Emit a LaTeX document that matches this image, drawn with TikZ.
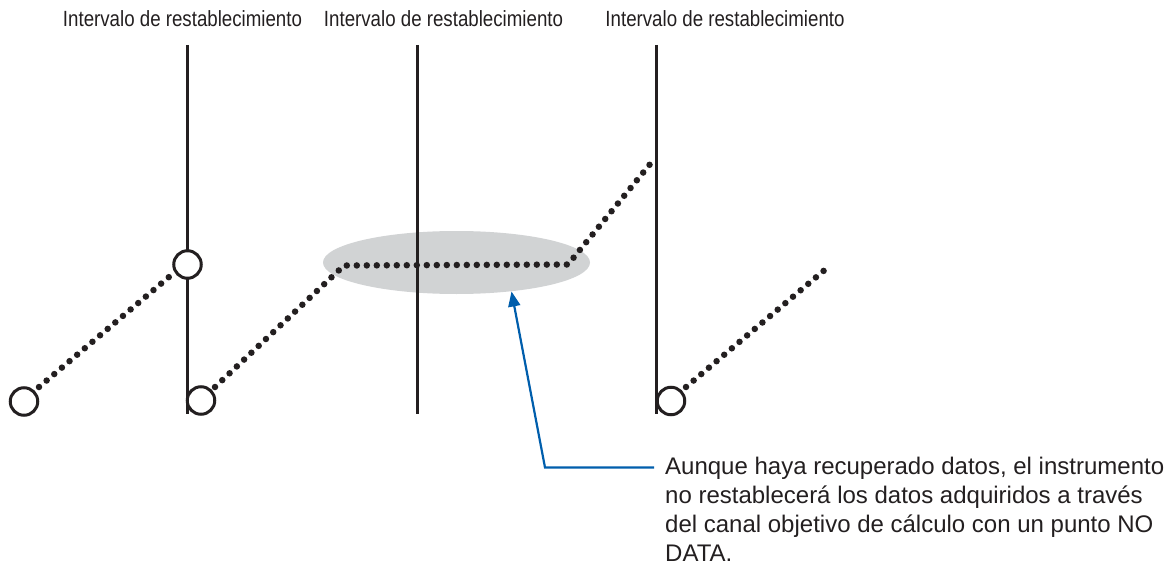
\documentclass[tikz,border=0pt]{standalone}
\usepackage{fontspec}
\setmainfont{Liberation Sans}
\newfontfamily\labfont[FakeStretch=0.85]{Liberation Sans}
\newfontfamily\bodyfont{Liberation Sans}
\usetikzlibrary{arrows.meta}
\definecolor{ellgray}{HTML}{D1D3D4}
\definecolor{arrowblue}{HTML}{005EAC}
\definecolor{ink}{HTML}{231F20}
\tikzset{
  vline/.style={draw=ink, line width=3pt},
  dots/.style={draw=ink, line width=6.5pt, line cap=round, dash pattern=on 0pt off 10pt},
  hole/.style={circle, draw=ink, fill=white, line width=3pt, minimum size=27.5pt, inner sep=0pt},
  lab/.style={font=\labfont\fontsize{22}{26}\selectfont, text=ink, inner sep=0pt},
  note/.style={font=\bodyfont\fontsize{24}{29}\selectfont, text=ink, align=left, inner sep=0pt, anchor=north west},
  pointer/.style={draw=arrowblue, line width=2.2pt, -{Triangle[length=15pt,width=12pt]}}
}
\begin{document}
\begin{tikzpicture}[x=1pt,y=-1pt]
\useasboundingbox (0,0) rectangle (1175,564);
% highlighted region
\fill[ellgray] (456.5,262.5) ellipse [x radius=133.5, y radius=31.5];
% labels
\node[lab] (l1) at (182.5,19) {Intervalo de restablecimiento};
\node[lab] (l2) at (443.5,19) {Intervalo de restablecimiento};
\node[lab] (l3) at (725,19) {Intervalo de restablecimiento};
% vertical lines
\coordinate (v1t) at (187.5,45); \coordinate (v1b) at (187.5,414);
\coordinate (v2t) at (417.5,45); \coordinate (v2b) at (417.5,414);
\coordinate (v3t) at (656.5,45); \coordinate (v3b) at (656.5,414);
\draw[vline] (v1t) -- (v1b);
\draw[vline] (v2t) -- (v2b);
\draw[vline] (v3t) -- (v3b);
% dotted traces
\coordinate (a1) at (39,387); \coordinate (a2) at (172.5,274);
\coordinate (b1) at (215,387); \coordinate (b2) at (344,265.5);
\coordinate (b3) at (568,264.5); \coordinate (b4) at (651,163);
\coordinate (c1) at (686,387); \coordinate (c2) at (827,268);
\draw[dots] (a1) -- (a2);
\draw[dots] (b1) -- (b2) -- (b3) -- (b4);
\draw[dots] (c1) -- (c2);
% circles
\node[hole] (p1) at (24,401.5) {};
\node[hole] (p2) at (187.5,264.5) {};
\node[hole] (p3) at (201,400.5) {};
\node[hole] (p4) at (671,401) {};
% note and pointer
\node[note] (txt) at (665,456.5) {Aunque haya recuperado datos, el instrumento\\no restablecerá los datos adquiridos a través\\del canal objetivo de cálculo con un punto NO\\DATA.};
\coordinate (k0) at (654,467.5);
\coordinate (k1) at (545,467.5);
\coordinate (tip) at (511.5,291.5);
\draw[pointer] (k0) -- (k1) -- (tip);
\end{tikzpicture}
\end{document}
